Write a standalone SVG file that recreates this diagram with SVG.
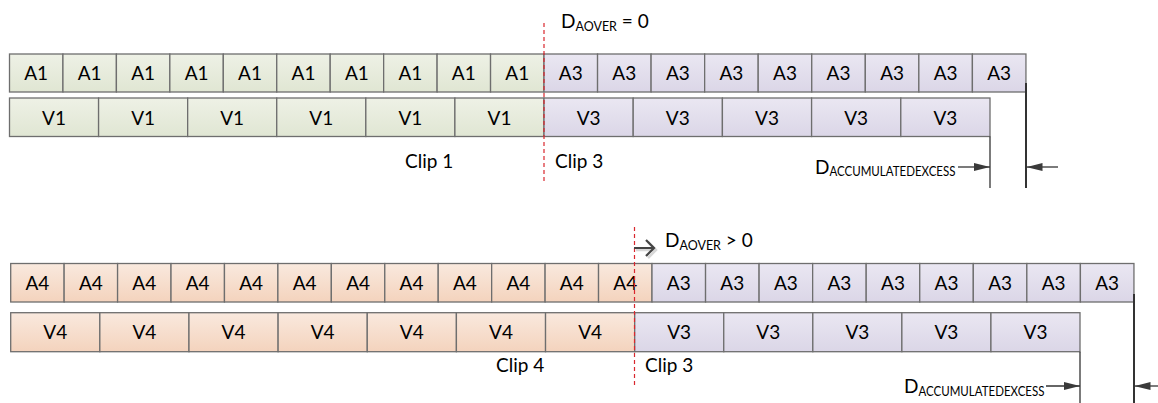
<svg xmlns="http://www.w3.org/2000/svg" width="1158" height="403" viewBox="0 0 1158 403">
<defs>
<linearGradient id="gG" x1="0" y1="0" x2="0" y2="1"><stop offset="0" stop-color="#eef1e6"/><stop offset="1" stop-color="#e0e6d3"/></linearGradient>
<linearGradient id="gP" x1="0" y1="0" x2="0" y2="1"><stop offset="0" stop-color="#eae7f2"/><stop offset="1" stop-color="#dbd6e7"/></linearGradient>
<linearGradient id="gO" x1="0" y1="0" x2="0" y2="1"><stop offset="0" stop-color="#f9e9de"/><stop offset="1" stop-color="#f4d3bd"/></linearGradient>
<marker id="tri" viewBox="0 0 16 8" refX="16" refY="4" markerWidth="16" markerHeight="8" markerUnits="userSpaceOnUse" orient="auto"><path d="M0,0 L16,4 L0,8 Z" fill="#3a3a3a"/></marker>
</defs>
<style>
rect{stroke:#6e6e6e;stroke-width:1.3}
.g{fill:url(#gG)} .p{fill:url(#gP)} .o{fill:url(#gO)}
text{font-family:Lato,"Liberation Sans",sans-serif;fill:#000;font-size:19px}
.c{text-anchor:middle}
.sub{font-size:12.5px}
.sub2{font-size:13.5px}
.red{stroke:#d9272e;stroke-width:1.2;stroke-dasharray:4,3;fill:none}
.dim{stroke:#333;stroke-width:1.3;fill:none}
.dimb{stroke:#333;stroke-width:2;fill:none}
</style>

<g id="top-audio">
<g id="t-a1-1"><rect class="g" x="9.5" y="54" width="53.45" height="38"/><text class="c" x="36.2" y="80">A1</text></g>
<g id="t-a1-2"><rect class="g" x="62.95" y="54" width="53.45" height="38"/><text class="c" x="89.7" y="80">A1</text></g>
<g id="t-a1-3"><rect class="g" x="116.4" y="54" width="53.45" height="38"/><text class="c" x="143.1" y="80">A1</text></g>
<g id="t-a1-4"><rect class="g" x="169.85" y="54" width="53.45" height="38"/><text class="c" x="196.6" y="80">A1</text></g>
<g id="t-a1-5"><rect class="g" x="223.3" y="54" width="53.45" height="38"/><text class="c" x="250" y="80">A1</text></g>
<g id="t-a1-6"><rect class="g" x="276.75" y="54" width="53.45" height="38"/><text class="c" x="303.5" y="80">A1</text></g>
<g id="t-a1-7"><rect class="g" x="330.2" y="54" width="53.45" height="38"/><text class="c" x="356.9" y="80">A1</text></g>
<g id="t-a1-8"><rect class="g" x="383.65" y="54" width="53.45" height="38"/><text class="c" x="410.4" y="80">A1</text></g>
<g id="t-a1-9"><rect class="g" x="437.1" y="54" width="53.45" height="38"/><text class="c" x="463.8" y="80">A1</text></g>
<g id="t-a1-10"><rect class="g" x="490.55" y="54" width="53.45" height="38"/><text class="c" x="517.3" y="80">A1</text></g>
<g id="t-a3-1"><rect class="p" x="544" y="54" width="53.55" height="38"/><text class="c" x="570.8" y="80">A3</text></g>
<g id="t-a3-2"><rect class="p" x="597.55" y="54" width="53.55" height="38"/><text class="c" x="624.3" y="80">A3</text></g>
<g id="t-a3-3"><rect class="p" x="651.1" y="54" width="53.55" height="38"/><text class="c" x="677.9" y="80">A3</text></g>
<g id="t-a3-4"><rect class="p" x="704.65" y="54" width="53.55" height="38"/><text class="c" x="731.4" y="80">A3</text></g>
<g id="t-a3-5"><rect class="p" x="758.2" y="54" width="53.55" height="38"/><text class="c" x="785" y="80">A3</text></g>
<g id="t-a3-6"><rect class="p" x="811.75" y="54" width="53.55" height="38"/><text class="c" x="838.5" y="80">A3</text></g>
<g id="t-a3-7"><rect class="p" x="865.3" y="54" width="53.55" height="38"/><text class="c" x="892.1" y="80">A3</text></g>
<g id="t-a3-8"><rect class="p" x="918.85" y="54" width="53.55" height="38"/><text class="c" x="945.6" y="80">A3</text></g>
<g id="t-a3-9"><rect class="p" x="972.4" y="54" width="53.55" height="38"/><text class="c" x="999.2" y="80">A3</text></g>
</g>

<g id="top-video">
<g id="t-v1-1"><rect class="g" x="9.5" y="98" width="89.08" height="38.5"/><text class="c" x="54" y="124.5">V1</text></g>
<g id="t-v1-2"><rect class="g" x="98.58" y="98" width="89.08" height="38.5"/><text class="c" x="143.1" y="124.5">V1</text></g>
<g id="t-v1-3"><rect class="g" x="187.66" y="98" width="89.08" height="38.5"/><text class="c" x="232.2" y="124.5">V1</text></g>
<g id="t-v1-4"><rect class="g" x="276.74" y="98" width="89.08" height="38.5"/><text class="c" x="321.3" y="124.5">V1</text></g>
<g id="t-v1-5"><rect class="g" x="365.82" y="98" width="89.08" height="38.5"/><text class="c" x="410.4" y="124.5">V1</text></g>
<g id="t-v1-6"><rect class="g" x="454.9" y="98" width="89.1" height="38.5"/><text class="c" x="499.5" y="124.5">V1</text></g>
<g id="t-v3-1"><rect class="p" x="544" y="98" width="89.2" height="38.5"/><text class="c" x="588.6" y="124.5">V3</text></g>
<g id="t-v3-2"><rect class="p" x="633.2" y="98" width="89.2" height="38.5"/><text class="c" x="677.8" y="124.5">V3</text></g>
<g id="t-v3-3"><rect class="p" x="722.4" y="98" width="89.2" height="38.5"/><text class="c" x="767" y="124.5">V3</text></g>
<g id="t-v3-4"><rect class="p" x="811.6" y="98" width="89.2" height="38.5"/><text class="c" x="856.2" y="124.5">V3</text></g>
<g id="t-v3-5"><rect class="p" x="900.8" y="98" width="89.2" height="38.5"/><text class="c" x="945.4" y="124.5">V3</text></g>
</g>

<g id="top-labels">
<text x="561" y="27.5">D<tspan class="sub" dy="3">AOVER</tspan><tspan dy="-3"> = 0</tspan></text>
<text x="405" y="168">Clip 1</text>
<text x="555" y="168">Clip 3</text>
<text x="815" y="173.5">D<tspan class="sub2" dy="2.5" textLength="126" lengthAdjust="spacingAndGlyphs">ACCUMULATEDEXCESS</tspan></text>
</g>

<g id="bot-audio">
<g id="b-a4-1"><rect class="o" x="10.7" y="263.5" width="53.44" height="38.5"/><text class="c" x="37.4" y="290">A4</text></g>
<g id="b-a4-2"><rect class="o" x="64.14" y="263.5" width="53.44" height="38.5"/><text class="c" x="90.9" y="290">A4</text></g>
<g id="b-a4-3"><rect class="o" x="117.58" y="263.5" width="53.44" height="38.5"/><text class="c" x="144.3" y="290">A4</text></g>
<g id="b-a4-4"><rect class="o" x="171.02" y="263.5" width="53.44" height="38.5"/><text class="c" x="197.7" y="290">A4</text></g>
<g id="b-a4-5"><rect class="o" x="224.46" y="263.5" width="53.44" height="38.5"/><text class="c" x="251.2" y="290">A4</text></g>
<g id="b-a4-6"><rect class="o" x="277.9" y="263.5" width="53.44" height="38.5"/><text class="c" x="304.6" y="290">A4</text></g>
<g id="b-a4-7"><rect class="o" x="331.34" y="263.5" width="53.44" height="38.5"/><text class="c" x="358.1" y="290">A4</text></g>
<g id="b-a4-8"><rect class="o" x="384.78" y="263.5" width="53.44" height="38.5"/><text class="c" x="411.5" y="290">A4</text></g>
<g id="b-a4-9"><rect class="o" x="438.22" y="263.5" width="53.44" height="38.5"/><text class="c" x="464.9" y="290">A4</text></g>
<g id="b-a4-10"><rect class="o" x="491.66" y="263.5" width="53.44" height="38.5"/><text class="c" x="518.4" y="290">A4</text></g>
<g id="b-a4-11"><rect class="o" x="545.1" y="263.5" width="53.44" height="38.5"/><text class="c" x="571.8" y="290">A4</text></g>
<g id="b-a4-12"><rect class="o" x="598.54" y="263.5" width="53.46" height="38.5"/><text class="c" x="625.3" y="290">A4</text></g>
<g id="b-a3-1"><rect class="p" x="652" y="263.5" width="53.55" height="38.5"/><text class="c" x="678.8" y="290">A3</text></g>
<g id="b-a3-2"><rect class="p" x="705.55" y="263.5" width="53.55" height="38.5"/><text class="c" x="732.3" y="290">A3</text></g>
<g id="b-a3-3"><rect class="p" x="759.1" y="263.5" width="53.55" height="38.5"/><text class="c" x="785.9" y="290">A3</text></g>
<g id="b-a3-4"><rect class="p" x="812.65" y="263.5" width="53.55" height="38.5"/><text class="c" x="839.4" y="290">A3</text></g>
<g id="b-a3-5"><rect class="p" x="866.2" y="263.5" width="53.55" height="38.5"/><text class="c" x="893" y="290">A3</text></g>
<g id="b-a3-6"><rect class="p" x="919.75" y="263.5" width="53.55" height="38.5"/><text class="c" x="946.5" y="290">A3</text></g>
<g id="b-a3-7"><rect class="p" x="973.3" y="263.5" width="53.55" height="38.5"/><text class="c" x="1000.1" y="290">A3</text></g>
<g id="b-a3-8"><rect class="p" x="1026.85" y="263.5" width="53.55" height="38.5"/><text class="c" x="1053.6" y="290">A3</text></g>
<g id="b-a3-9"><rect class="p" x="1080.4" y="263.5" width="53.55" height="38.5"/><text class="c" x="1107.2" y="290">A3</text></g>
</g>

<g id="bot-video">
<g id="b-v4-1"><rect class="o" x="10.7" y="312.7" width="89.14" height="39"/><text class="c" x="55.3" y="339">V4</text></g>
<g id="b-v4-2"><rect class="o" x="99.84" y="312.7" width="89.14" height="39"/><text class="c" x="144.4" y="339">V4</text></g>
<g id="b-v4-3"><rect class="o" x="188.98" y="312.7" width="89.14" height="39"/><text class="c" x="233.5" y="339">V4</text></g>
<g id="b-v4-4"><rect class="o" x="278.12" y="312.7" width="89.14" height="39"/><text class="c" x="322.7" y="339">V4</text></g>
<g id="b-v4-5"><rect class="o" x="367.26" y="312.7" width="89.14" height="39"/><text class="c" x="411.8" y="339">V4</text></g>
<g id="b-v4-6"><rect class="o" x="456.4" y="312.7" width="89.14" height="39"/><text class="c" x="501" y="339">V4</text></g>
<g id="b-v4-7"><rect class="o" x="545.54" y="312.7" width="89.16" height="39"/><text class="c" x="590.1" y="339">V4</text></g>
<g id="b-v3-1"><rect class="p" x="634.7" y="312.7" width="89.06" height="39"/><text class="c" x="679.2" y="339">V3</text></g>
<g id="b-v3-2"><rect class="p" x="723.76" y="312.7" width="89.06" height="39"/><text class="c" x="768.3" y="339">V3</text></g>
<g id="b-v3-3"><rect class="p" x="812.82" y="312.7" width="89.06" height="39"/><text class="c" x="857.4" y="339">V3</text></g>
<g id="b-v3-4"><rect class="p" x="901.88" y="312.7" width="89.06" height="39"/><text class="c" x="946.4" y="339">V3</text></g>
<g id="b-v3-5"><rect class="p" x="990.94" y="312.7" width="89.06" height="39"/><text class="c" x="1035.5" y="339">V3</text></g>
</g>

<g id="bot-labels">
<text x="665" y="247">D<tspan class="sub" dy="3">AOVER</tspan><tspan dy="-3"> &gt; 0</tspan></text>
<text x="496" y="372">Clip 4</text>
<text x="645" y="372">Clip 3</text>
<text x="904" y="393">D<tspan class="sub2" dy="2.5" textLength="126" lengthAdjust="spacingAndGlyphs">ACCUMULATEDEXCESS</tspan></text>
</g>

<g id="connectors">
<line class="red" x1="544" y1="23" x2="544" y2="181"/>
<line class="red" x1="634.5" y1="227" x2="634.5" y2="386"/>
<line class="dim" x1="990" y1="136.5" x2="990" y2="188"/>
<line class="dimb" x1="1026" y1="83" x2="1026" y2="188"/>
<line class="dim" x1="958" y1="167" x2="990" y2="167" marker-end="url(#tri)"/>
<line class="dim" x1="1058" y1="167" x2="1026.5" y2="167" marker-end="url(#tri)"/>
<line class="dim" x1="1080" y1="351.7" x2="1080" y2="403"/>
<line class="dimb" x1="1134" y1="294" x2="1134" y2="403"/>
<line class="dim" x1="1046" y1="386" x2="1080" y2="386" marker-end="url(#tri)"/>
<line class="dim" x1="1158" y1="386" x2="1134.5" y2="386" marker-end="url(#tri)"/>
<g id="over-arrow">
<path d="M636,250 L656,250 M648,242 L656,250 L648,258" stroke="#d8d8d8" stroke-width="2.5" fill="none"/>
<path d="M634,248 L654,248 M646,240 L654,248 L646,256" stroke="#444" stroke-width="2.2" fill="none"/>
</g>
</g>
</svg>
